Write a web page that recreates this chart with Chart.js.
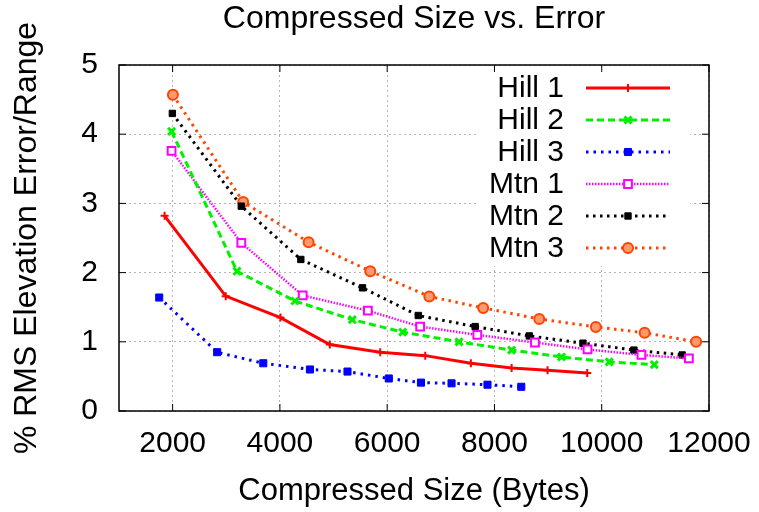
<!DOCTYPE html>
<html>
<head>
<meta charset="utf-8">
<title>Compressed Size vs. Error</title>
<script src="https://cdn.jsdelivr.net/npm/chart.js@4.4.0/dist/chart.umd.min.js"></script>
<style>
  html, body { margin: 0; padding: 0; background: #fff; }
  #wrap { width: 759px; height: 512px; }
</style>
</head>
<body>
<div id="wrap"><canvas id="chart" width="759" height="512"></canvas></div>
<script>
/* ── DATA ─────────────────────────────────────────────────── */
const seriesLabels = ['Hill 1', 'Hill 2', 'Hill 3', 'Mtn 1', 'Mtn 2', 'Mtn 3'];

const hill1X = [1850, 2990, 4010, 4930, 5870, 6710, 7560, 8320, 8990, 9730];
const hill1Y = [2.82, 1.66, 1.35, 0.96, 0.85, 0.80, 0.69, 0.62, 0.59, 0.55];

const hill2X = [1980, 3200, 4280, 5350, 6290, 7340, 8320, 9250, 10140, 10980];
const hill2Y = [4.04, 2.02, 1.59, 1.32, 1.14, 1.00, 0.88, 0.78, 0.71, 0.67];

const hill3X = [1750, 2830, 3690, 4560, 5260, 6030, 6630, 7200, 7870, 8500];
const hill3Y = [1.64, 0.85, 0.69, 0.60, 0.57, 0.47, 0.41, 0.40, 0.38, 0.35];

const mtn1X = [1980, 3280, 4425, 5640, 6615, 7680, 8755, 9735, 10740, 11625];
const mtn1Y = [3.76, 2.43, 1.67, 1.45, 1.22, 1.10, 0.99, 0.89, 0.81, 0.76];

const mtn2X = [1995, 3280, 4390, 5540, 6580, 7640, 8650, 9650, 10600, 11500];
const mtn2Y = [4.30, 2.96, 2.19, 1.78, 1.38, 1.22, 1.085, 0.98, 0.88, 0.81];

const mtn3X = [2005, 3315, 4535, 5685, 6785, 7790, 8835, 9890, 10800, 11760];
const mtn3Y = [4.57, 3.02, 2.44, 2.02, 1.655, 1.49, 1.33, 1.215, 1.13, 1.00];

const xTicks = [2000, 4000, 6000, 8000, 10000, 12000];
const yTicks = [0, 1, 2, 3, 4, 5];

const FONT = '"Liberation Sans", Arial, Helvetica, sans-serif';

function pts(xs, ys) {
  return xs.map((x, i) => ({ x, y: ys[i] }));
}

/* ── STYLES PER SERIES ────────────────────────────────────── */
const styles = [
  { color: '#ff0000', width: 3, dash: [], point: 'cross', r: 4, pbw: 2, fill: '#ff0000' },
  { color: '#00f000', width: 3, dash: [7, 4], point: 'crossRot', r: 5, pbw: 3, fill: '#00f000' },
  { color: '#0000ff', width: 3, dash: [2.5, 5], point: 'rect', r: 5, pbw: 1, fill: '#0000ff' },
  { color: '#ff00ff', width: 2.5, dash: [1.5, 1.5], point: 'rect', r: 5.5, pbw: 2, fill: '#ffffff' },
  { color: '#000000', width: 3, dash: [2.5, 4.5], point: 'rect', r: 4.5, pbw: 1, fill: '#000000' },
  { color: '#ff4500', width: 3, dash: [2.5, 4.5], point: 'circle', r: 5, pbw: 2, fill: '#ff9a70' }
];

const seriesData = [
  pts(hill1X, hill1Y), pts(hill2X, hill2Y), pts(hill3X, hill3Y),
  pts(mtn1X, mtn1Y), pts(mtn2X, mtn2Y), pts(mtn3X, mtn3Y)
];

const datasets = seriesLabels.map((label, i) => {
  const s = styles[i];
  return {
    label,
    data: seriesData[i],
    borderColor: s.color,
    borderWidth: s.width,
    borderDash: s.dash,
    pointStyle: s.point,
    pointRadius: s.r,
    pointBorderWidth: s.pbw,
    pointBorderColor: s.color,
    pointBackgroundColor: s.fill,
    showLine: true,
    fill: false,
    tension: 0
  };
});

/* ── PLUGINS ──────────────────────────────────────────────── */
// white key box hides grid behind the legend, like gnuplot's key
const keyBackground = {
  id: 'keyBackground',
  beforeDatasetsDraw(chart) {
    const ctx = chart.ctx;
    ctx.save();
    ctx.fillStyle = '#fff';
    ctx.fillRect(478, 70, 212, 196);
    ctx.restore();
  }
};

// gnuplot style key: text right-aligned, sample line to the right
const keyLegend = {
  id: 'keyLegend',
  afterDatasetsDraw(chart) {
    const ctx = chart.ctx;
    ctx.save();
    ctx.font = '30px ' + FONT;
    ctx.textAlign = 'right';
    ctx.textBaseline = 'middle';
    chart.data.datasets.forEach((ds, i) => {
      const y = 88 + i * 32;
      ctx.fillStyle = '#000';
      ctx.fillText(ds.label, 564, y + 1);
      ctx.strokeStyle = ds.borderColor;
      ctx.lineWidth = ds.borderWidth;
      ctx.setLineDash(ds.borderDash);
      ctx.beginPath();
      ctx.moveTo(586, y);
      ctx.lineTo(670, y);
      ctx.stroke();
      ctx.setLineDash([]);
      ctx.fillStyle = ds.pointBackgroundColor;
      ctx.strokeStyle = ds.pointBorderColor;
      ctx.lineWidth = ds.pointBorderWidth;
      Chart.helpers.drawPoint(ctx, {
        pointStyle: ds.pointStyle,
        radius: ds.pointRadius,
        borderWidth: ds.pointBorderWidth,
        rotation: 0
      }, 628, y);
    });
    ctx.restore();
  }
};

// full frame plus inward tick marks
const frame = {
  id: 'frame',
  afterDraw(chart) {
    const { ctx, chartArea: a, scales } = chart;
    ctx.save();
    ctx.strokeStyle = '#000';
    ctx.lineWidth = 1.5;
    ctx.strokeRect(a.left, a.top, a.right - a.left, a.bottom - a.top);
    ctx.lineWidth = 1;
    ctx.beginPath();
    xTicks.forEach(v => {
      const px = scales.x.getPixelForValue(v);
      ctx.moveTo(px, a.bottom); ctx.lineTo(px, a.bottom - 7);
      ctx.moveTo(px, a.top); ctx.lineTo(px, a.top + 7);
    });
    yTicks.forEach(v => {
      const py = scales.y.getPixelForValue(v);
      ctx.moveTo(a.left, py); ctx.lineTo(a.left + 7, py);
      ctx.moveTo(a.right, py); ctx.lineTo(a.right - 7, py);
    });
    ctx.stroke();
    ctx.restore();
  }
};

/* ── CHART ────────────────────────────────────────────────── */
const gridStyle = {
  color: '#b4b4b4',
  lineWidth: 1,
  drawTicks: false
};

new Chart(document.getElementById('chart'), {
  type: 'scatter',
  data: { datasets },
  plugins: [keyBackground, keyLegend, frame],
  options: {
    responsive: false,
    animation: false,
    layout: { padding: { left: 0, right: 50, top: 0, bottom: 0 } },
    plugins: {
      legend: { display: false },
      tooltip: { enabled: false },
      title: {
        display: true,
        fullSize: false,
        text: 'Compressed Size vs. Error',
        color: '#000',
        font: { family: FONT, size: 32, weight: 'normal' },
        padding: { top: 0, bottom: 26.6 }
      }
    },
    scales: {
      x: {
        type: 'linear',
        min: 1000,
        max: 12000,
        border: { display: false, dash: [2, 3] },
        grid: gridStyle,
        afterBuildTicks: s => { s.ticks = xTicks.map(v => ({ value: v })); },
        afterFit: s => { s.height = 101; s.paddingLeft = 0; s.paddingRight = 0; },
        ticks: {
          color: '#000',
          padding: 15,
          maxRotation: 0,
          font: { family: FONT, size: 30 },
          callback: v => String(v)
        },
        title: {
          display: true,
          text: 'Compressed Size (Bytes)',
          color: '#000',
          font: { family: FONT, size: 31 },
          padding: { top: 0, bottom: 2.4 }
        }
      },
      y: {
        type: 'linear',
        min: 0,
        max: 5,
        border: { display: false, dash: [2, 3] },
        grid: gridStyle,
        afterBuildTicks: s => { s.ticks = yTicks.map(v => ({ value: v })); },
        afterFit: s => { s.width = 119; s.paddingTop = 0; s.paddingBottom = 0; },
        ticks: {
          color: '#000',
          padding: 21,
          font: { family: FONT, size: 30 }
        },
        title: {
          display: true,
          text: '% RMS Elevation Error/Range',
          color: '#000',
          font: { family: FONT, size: 32 },
          padding: { top: 8, bottom: 0 }
        }
      }
    }
  }
});
</script>
</body>
</html>
